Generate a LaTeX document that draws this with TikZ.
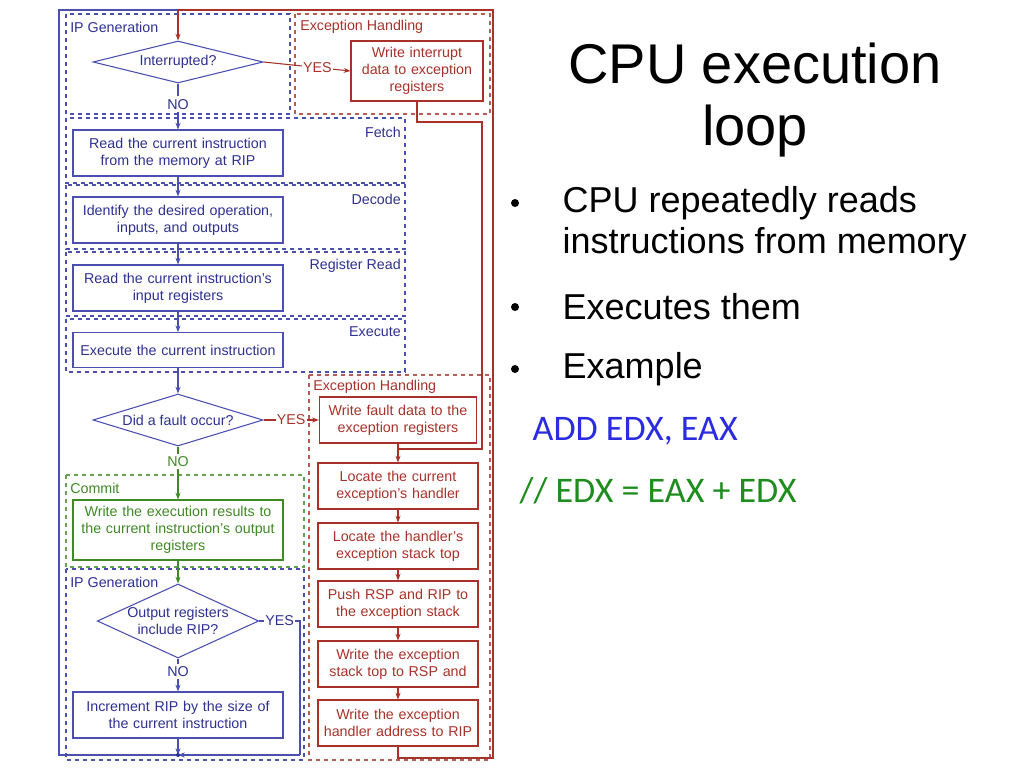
\documentclass[tikz,border=0pt]{standalone}
\usepackage{fontspec}
\setmainfont{Liberation Sans}
\newfontfamily\calib{Carlito}
\usetikzlibrary{shapes.geometric,arrows.meta}
\definecolor{bl}{HTML}{2E3192}
\definecolor{bll}{HTML}{4B4FB0}
\definecolor{rd}{HTML}{A8322A}
\definecolor{gr}{HTML}{3F8A25}
\definecolor{addb}{HTML}{2B2BE0}
\definecolor{addg}{HTML}{1E8C1E}
\begin{document}
\begin{tikzpicture}[x=0.75pt,y=-0.75pt,
  txt/.style={font=\fontsize{10.7}{12.6}\selectfont,align=center,inner sep=0pt},
  box/.style={txt,draw,thick,minimum width=157.5pt,text width=150pt},
  rbox/.style={txt,draw=rd,text=rd,thick,minimum width=120pt,text width=118pt,minimum height=34.5pt},
  zone/.style={dashed,thick},
  lab/.style={txt,font=\fontsize{10.7}{12.6}\selectfont},
  arr/.style={-{Stealth[length=5pt]},thick},
  ln/.style={thick}]
\useasboundingbox (0,0) rectangle (1024,768);
\fill[white] (0,0) rectangle (1024,768);
% zones
\draw[zone,bll] (66,14) rectangle (290,114);
\draw[zone,rd!80] (295,14) rectangle (490,114);
\draw[zone,bll] (66,118) rectangle (405,183);
\draw[zone,bll] (66,185) rectangle (405,249);
\draw[zone,bll] (66,252) rectangle (405,316);
\draw[zone,bll] (66,319) rectangle (405,372);
\draw[zone,rd!80] (309,375) rectangle (490,760);
\draw[zone,gr!80] (66,475) rectangle (304,567);
\draw[zone,bll] (66,569) rectangle (304,760);
\node[lab,text=bl,anchor=west] (l1) at (70,27) {IP Generation};
\node[lab,text=rd,anchor=west] (l2) at (300,27) {Exception Handling};
\node[lab,text=bl,anchor=east] (l3) at (401,132) {Fetch};
\node[lab,text=bl,anchor=east] (l4) at (401,199) {Decode};
\node[lab,text=bl,anchor=east] (l5) at (401,266) {Register Read};
\node[lab,text=bl,anchor=east] (l6) at (401,332) {Execute};
\node[lab,text=rd,anchor=west] (l7) at (313,387) {Exception Handling};
\node[lab,text=gr,anchor=west] (l8) at (70,488) {Commit};
\node[lab,text=bl,anchor=west] (l9) at (70,582) {IP Generation};
% main nodes
\node[txt,diamond,draw=bll,text=bl,thick,minimum width=127.5pt,minimum height=31.5pt,aspect=4] (intr) at (178,62) {Interrupted?};
\node[txt,draw=rd,text=rd,thick,minimum width=99pt,minimum height=45pt,text width=95pt] (wint) at (417,71) {Write interrupt\\data to exception\\registers};
\node[box,draw=bll,text=bl,minimum height=34.5pt] (b1) at (178,153) {Read the current instruction\\from the memory at RIP};
\node[box,draw=bll,text=bl,minimum height=34.5pt] (b2) at (178,220) {Identify the desired operation,\\inputs, and outputs};
\node[box,draw=bll,text=bl,minimum height=34.5pt] (b3) at (178,288) {Read the current instruction’s\\input registers};
\node[box,draw=bll,text=bl,minimum height=26pt] (b4) at (178,350) {Execute the current instruction};
\node[txt,diamond,draw=bll,text=bl,thick,minimum width=127.5pt,minimum height=39pt,aspect=3.3] (flt) at (178,420) {Did a fault occur?};
\node[box,draw=gr,text=gr,minimum height=45pt,text width=156pt] (cm) at (178,530) {Write the execution results to\\the current instruction’s output\\registers};
\node[txt,diamond,draw=bll,text=bl,thick,minimum width=120pt,minimum height=55.5pt,aspect=2.2] (out) at (178,621) {Output registers\\include RIP?};
\node[box,draw=bll,text=bl,minimum height=34.5pt] (inc) at (178,715) {Increment RIP by the size of\\the current instruction};
\node[rbox,minimum width=117pt] (e1) at (398,420) {Write fault data to the\\exception registers};
\node[rbox] (e2) at (398,486) {Locate the current\\exception’s handler};
\node[rbox] (e3) at (398,546) {Locate the handler’s\\exception stack top};
\node[rbox] (e4) at (398,604) {Push RSP and RIP to\\the exception stack};
\node[rbox] (e5) at (398,664) {Write the exception\\stack top to RSP and};
\node[rbox] (e6) at (398,723) {Write the exception\\handler address to RIP};
% coordinates
\coordinate (tt) at (178,10);
\coordinate (tl) at (59,10);
\coordinate (bL) at (59,755);
\coordinate (rt) at (493,10);
\coordinate (rb) at (493,758);
\coordinate (jn) at (178,755);
\coordinate (w1) at (417,122);
\coordinate (w2) at (482,122);
\coordinate (w3) at (482,449);
\coordinate (w4) at (398,449);
\coordinate (y1) at (300,621);
\coordinate (y2) at (300,755);
% connectors
\draw[ln,bll] (jn) -- (bL) -- (tl) -- (tt);
\draw[ln,rd] (e6.south) |- (rb) -- (rt) -- (tt);
\draw[arr,rd] (tt) -- (intr.north);
\draw[arr,rd] (intr.east) -- node[pos=0.62,fill=white,txt,text=rd,inner xsep=1pt] (yes1) {YES} (wint.west);
\draw[ln,rd] (wint.south) |- (w2) -- (w3) -- (w4);
\draw[arr,bll] (intr.south) -- node[pos=0.45,fill=white,txt,text=bl,inner ysep=2pt] (no1) {NO} (b1.north);
\draw[arr,bll] (b1) -- (b2);
\draw[arr,bll] (b2) -- (b3);
\draw[arr,bll] (b3) -- (b4);
\draw[arr,bll] (b4) -- (flt.north);
\draw[arr,rd] (flt.east) -- node[pos=0.5,fill=white,txt,text=rd,inner xsep=1pt] (yes2) {YES} (e1.west);
\draw[arr,rd] (e1) -- (e2);
\draw[arr,rd] (e2) -- (e3);
\draw[arr,rd] (e3) -- (e4);
\draw[arr,rd] (e4) -- (e5);
\draw[arr,rd] (e5) -- (e6);
\draw[arr,gr] (flt.south) -- node[pos=0.28,fill=white,txt,text=gr,inner ysep=2pt] (no2) {NO} (cm.north);
\draw[arr,gr] (cm) -- (out.north);
\draw[arr,bll] (out.south) -- node[pos=0.4,fill=white,txt,text=bl,inner ysep=2pt] (no3) {NO} (inc.north);
\draw[ln,bll] (out.east) -- node[pos=0.5,fill=white,txt,text=bl,inner xsep=1pt] (yes3) {YES} (y1) -- (y2);
\draw[arr,bll] (y2) -- (jn);
\draw[arr,bll] (inc.south) -- (jn);
\fill[bl] (jn) circle (1.5pt);
% right text
\node[font=\fontsize{42}{46}\selectfont,align=center] (title) at (755,100) {CPU execution\\loop};
\node[font=\fontsize{27}{31}\selectfont,anchor=west,align=left] (bt1) at (558,224) {CPU repeatedly reads\\instructions from memory};
\node[font=\fontsize{27}{31}\selectfont,anchor=west] (bt2) at (558,307) {Executes them};
\node[font=\fontsize{27}{31}\selectfont,anchor=west] (bt3) at (558,369) {Example};
\foreach \yy/\nm in {203/d1,307/d2,369/d3} \fill (515,\yy) circle (3pt);
\node[font=\calib\fontsize{27}{31}\selectfont,text=addb,anchor=west] (add) at (528,431) {ADD EDX, EAX};
\node[font=\calib\fontsize{27}{31}\selectfont,text=addg,anchor=west] (cmt) at (515,491) {// EDX = EAX + EDX};
\end{tikzpicture}
\end{document}
